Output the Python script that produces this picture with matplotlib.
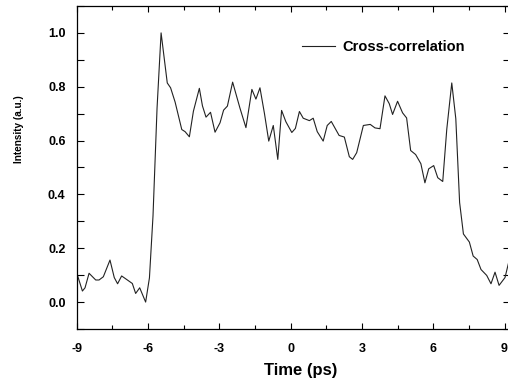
import matplotlib
matplotlib.use("Agg")
import matplotlib.pyplot as plt
from matplotlib.ticker import MultipleLocator

plt.rcParams['font.family'] = ['Liberation Sans', 'DejaVu Sans']
plt.rcParams['axes.unicode_minus'] = False

# cross-correlation trace
time_ps = [-8.96, -8.76, -8.65, -8.48, -8.20, -8.06, -7.88, -7.60, -7.42, -7.28,
           -7.11, -6.90, -6.66, -6.52, -6.35, -6.10, -5.94, -5.79, -5.62, -5.45,
           -5.19, -5.05, -4.86, -4.58, -4.44, -4.26, -4.09, -3.84, -3.71, -3.56,
           -3.37, -3.18, -2.97, -2.82, -2.66, -2.44, -2.13, -1.88, -1.63, -1.46,
           -1.29, -1.10, -0.92, -0.73, -0.54, -0.38, -0.20, 0.05, 0.20, 0.37,
           0.53, 0.79, 0.95, 1.12, 1.37, 1.54, 1.71, 2.04, 2.26, 2.47,
           2.61, 2.78, 3.06, 3.35, 3.55, 3.76, 3.97, 4.15, 4.29, 4.50,
           4.71, 4.88, 5.05, 5.26, 5.48, 5.65, 5.81, 6.02, 6.19, 6.40,
           6.57, 6.78, 6.95, 7.11, 7.27, 7.52, 7.68, 7.85, 8.01, 8.25,
           8.43, 8.60, 8.77, 9.02, 9.17]
intensity = [0.097, 0.041, 0.053, 0.107, 0.082, 0.082, 0.094, 0.156, 0.091, 0.068,
             0.097, 0.084, 0.069, 0.032, 0.053, 0.000, 0.090, 0.320, 0.720, 1.000,
             0.814, 0.796, 0.743, 0.641, 0.633, 0.614, 0.709, 0.794, 0.729, 0.687,
             0.705, 0.631, 0.666, 0.713, 0.728, 0.817, 0.720, 0.648, 0.790, 0.754,
             0.796, 0.700, 0.598, 0.656, 0.530, 0.712, 0.670, 0.630, 0.645, 0.708,
             0.683, 0.674, 0.683, 0.633, 0.598, 0.656, 0.671, 0.619, 0.613, 0.540,
             0.530, 0.555, 0.656, 0.660, 0.647, 0.644, 0.766, 0.737, 0.697, 0.746,
             0.703, 0.684, 0.563, 0.548, 0.514, 0.443, 0.495, 0.507, 0.462, 0.448,
             0.642, 0.814, 0.681, 0.370, 0.253, 0.223, 0.171, 0.158, 0.121, 0.099,
             0.068, 0.111, 0.062, 0.091, 0.146]

fig = plt.figure(figsize=(5.08, 3.85), dpi=100)
ax = fig.add_axes([0.151, 0.1455, 0.852, 0.839])

ax.plot(time_ps, intensity, color='#222222', lw=0.8, label='Cross-correlation')

ax.set_xlim(-9, 9.21)
ax.set_ylim(-0.1, 1.1)
ax.xaxis.set_major_locator(MultipleLocator(3))
ax.xaxis.set_minor_locator(MultipleLocator(1.5))
ax.yaxis.set_major_locator(MultipleLocator(0.2))
ax.yaxis.set_minor_locator(MultipleLocator(0.1))
ax.yaxis.set_major_formatter(plt.FormatStrFormatter('%.1f'))

ax.tick_params(which='both', direction='in', top=True, right=True, width=0.8)
ax.tick_params(axis='x', which='major', length=4, pad=10)
ax.tick_params(axis='x', which='minor', length=3)
ax.tick_params(axis='y', which='both', length=5, pad=8)
for lab in ax.get_xticklabels() + ax.get_yticklabels():
    lab.set_fontweight('bold')
    lab.set_fontsize(9)
for sp in ax.spines.values():
    sp.set_linewidth(0.9)

ax.set_xlabel('Time (ps)', fontsize=12, fontweight='bold', labelpad=6)
ax.xaxis.label.set_x(0.518)
ax.set_ylabel('Intensity (a.u.)', fontsize=7.2, fontweight='bold', labelpad=17)
ax.yaxis.label.set_y(0.62)

ax.legend(loc='upper left', bbox_to_anchor=(0.49, 0.935), frameon=False,
          handlelength=2.3, handletextpad=0.5, prop={'size': 10.5, 'weight': 'bold'})

fig.savefig('out.png', dpi=100)
